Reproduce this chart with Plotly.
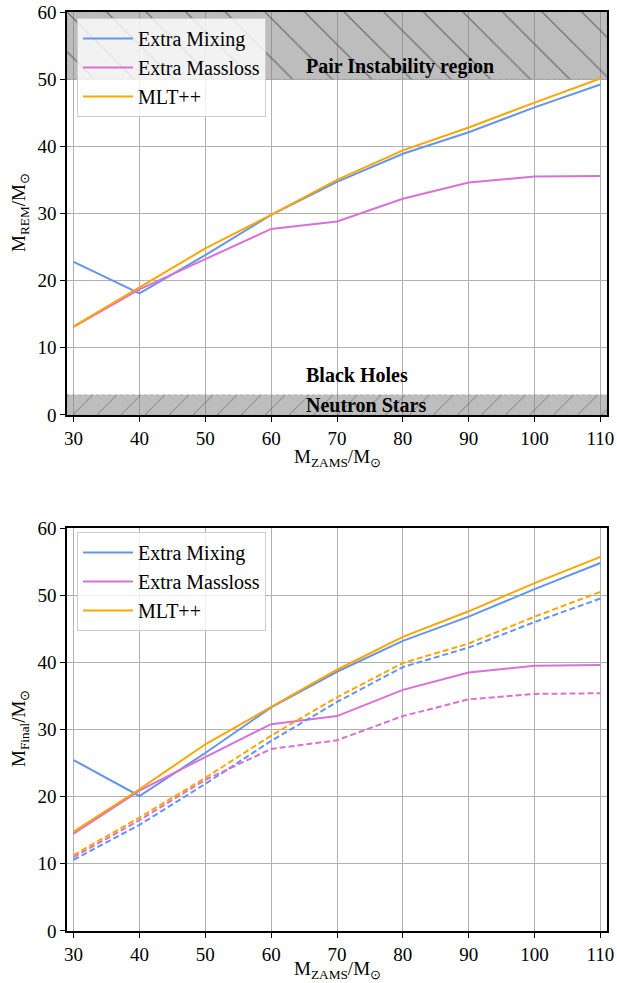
import plotly.graph_objects as go

# ---------------- data ----------------
M_ZAMS = [30, 40, 50, 60, 70, 80, 90, 100, 110]

rem_extra_mixing = [22.8, 18.1, 23.8, 29.8, 34.7, 38.9, 42.1, 45.8, 49.2]
rem_extra_massloss = [13.1, 18.7, 23.2, 27.7, 28.8, 32.2, 34.6, 35.5, 35.6]
rem_mltpp = [13.2, 19.0, 24.8, 29.8, 35.0, 39.4, 42.8, 46.5, 50.1]

final_extra_mixing = [25.45, 20.1, 26.5, 33.3, 38.6, 43.2, 46.8, 50.9, 54.8]
final_extra_massloss = [14.5, 20.9, 25.9, 30.8, 32.0, 35.9, 38.5, 39.5, 39.6]
final_mltpp = [14.8, 21.1, 27.8, 33.4, 38.9, 43.8, 47.6, 51.8, 55.7]

dash_extra_mixing = [10.6, 15.8, 21.9, 28.3, 34.1, 39.3, 42.2, 46.0, 49.5]
dash_extra_massloss = [11.0, 16.5, 22.5, 27.1, 28.4, 32.0, 34.5, 35.3, 35.4]
dash_mltpp = [11.3, 16.9, 22.8, 29.1, 34.8, 39.9, 42.8, 46.8, 50.5]

SERIES_NAMES = ["Extra Mixing", "Extra Massloss", "MLT++"]
X_TICKS = [30, 40, 50, 60, 70, 80, 90, 100, 110]
Y_TICKS = [0, 10, 20, 30, 40, 50, 60]
X_LIM = [29, 111]
Y_LIM = [0, 60]
PAIR_INSTABILITY = [50, 60]
NEUTRON_STARS = [0, 3]

# ---------------- style ----------------
COLORS = ["#6495ED", "#DA70D6", "#FFA500"]
FONT = "Liberation Serif"
FS = 19

fig = go.Figure()


def band(lo_hi, shape, size, xaxis, yaxis):
    lo, hi = lo_hi
    fig.add_trace(go.Scatter(
        x=[X_LIM[0], X_LIM[1], X_LIM[1], X_LIM[0], X_LIM[0]],
        y=[lo, lo, hi, hi, lo],
        mode="lines", fill="toself",
        line=dict(width=0.8, color="rgba(150,150,150,0.6)", dash="dot"),
        fillcolor="rgba(128,128,128,0.52)",
        fillpattern=dict(shape=shape, size=size, solidity=0.04,
                         fgcolor="#3a3a3a", fgopacity=0.7,
                         bgcolor="rgba(128,128,128,0.52)"),
        showlegend=False, hoverinfo="skip", xaxis=xaxis, yaxis=yaxis,
    ))


band(PAIR_INSTABILITY, "\\", 28, "x", "y")
band(NEUTRON_STARS, "/", 17, "x", "y")

for name, vals, col in zip(SERIES_NAMES, [rem_extra_mixing, rem_extra_massloss, rem_mltpp], COLORS):
    fig.add_trace(go.Scatter(x=M_ZAMS, y=vals, mode="lines", name=name,
                             line=dict(color=col, width=2), xaxis="x", yaxis="y",
                             legend="legend"))

for name, vals, col in zip(SERIES_NAMES, [final_extra_mixing, final_extra_massloss, final_mltpp], COLORS):
    fig.add_trace(go.Scatter(x=M_ZAMS, y=vals, mode="lines", name=name,
                             line=dict(color=col, width=2), xaxis="x2", yaxis="y2",
                             legend="legend2"))

for name, vals, col in zip(SERIES_NAMES, [dash_extra_mixing, dash_extra_massloss, dash_mltpp], COLORS):
    fig.add_trace(go.Scatter(x=M_ZAMS, y=vals, mode="lines", name=name,
                             line=dict(color=col, width=2, dash="6px,3px"),
                             xaxis="x2", yaxis="y2", showlegend=False))

axis_common = dict(
    showline=True, mirror=True, linecolor="black", linewidth=1.6,
    ticks="outside", ticklen=5, tickwidth=1.2, tickcolor="black",
    showgrid=True, gridcolor="#b0b0b0", gridwidth=1,
    zeroline=False, automargin=False,
    tickfont=dict(family=FONT, size=FS, color="black"),
)

legend_common = dict(
    xanchor="left", yanchor="top",
    bgcolor="rgba(255,255,255,0.8)", bordercolor="#cccccc", borderwidth=1,
    font=dict(family=FONT, size=20, color="black"), tracegroupgap=0,
    itemwidth=50,
)

plot_w, plot_h = 617 - 67 - 10, 983 - 12 - 52


def py(pix):
    return (983 - 52 - pix) / plot_h


fig.update_layout(
    template="none",
    width=617, height=983,
    margin=dict(l=67, r=10, t=12, b=52, autoexpand=False),
    paper_bgcolor="white", plot_bgcolor="white",
    font=dict(family=FONT, size=FS, color="black"),
    xaxis=dict(axis_common, domain=[0, 1], range=X_LIM, tickvals=X_TICKS, anchor="y"),
    yaxis=dict(axis_common, domain=[0.5615, 1], range=Y_LIM, tickvals=Y_TICKS, anchor="x"),
    xaxis2=dict(axis_common, domain=[0, 1], range=X_LIM, tickvals=X_TICKS, anchor="y2"),
    yaxis2=dict(axis_common, domain=[0, 0.4385], range=Y_LIM, tickvals=Y_TICKS, anchor="x2"),
    legend=dict(legend_common, x=0.0185, y=py(18)),
    legend2=dict(legend_common, x=0.0185, y=py(532)),
    showlegend=True,
)

region_font = dict(family=FONT, size=20, color="black", weight="bold")
annotations = [
    dict(text="Pair Instability region", x=65, y=51.9, xref="x", yref="y",
         xanchor="left", yanchor="middle", showarrow=False, font=region_font),
    dict(text="Black Holes", x=65, y=5.95, xref="x", yref="y",
         xanchor="left", yanchor="middle", showarrow=False, font=region_font),
    dict(text="Neutron Stars", x=65, y=1.5, xref="x", yref="y",
         xanchor="left", yanchor="middle", showarrow=False, font=region_font),
    # axis titles (positions given in pixels, converted below)
    dict(text="M<sub>REM</sub>/M<sub>⊙</sub>", x=20, y=213, xref="paper", yref="paper",
         xanchor="center", yanchor="middle", textangle=-90, showarrow=False,
         font=dict(family=FONT, size=FS, color="black")),
    dict(text="M<sub>Final</sub>/M<sub>⊙</sub>", x=20, y=729, xref="paper", yref="paper",
         xanchor="center", yanchor="middle", textangle=-90, showarrow=False,
         font=dict(family=FONT, size=FS, color="black")),
    dict(text="M<sub>ZAMS</sub>/M<sub>⊙</sub>", x=337, y=458, xref="paper", yref="paper",
         xanchor="center", yanchor="middle", showarrow=False,
         font=dict(family=FONT, size=FS, color="black")),
    dict(text="M<sub>ZAMS</sub>/M<sub>⊙</sub>", x=337, y=970, xref="paper", yref="paper",
         xanchor="center", yanchor="middle", showarrow=False,
         font=dict(family=FONT, size=FS, color="black")),
]
for a in annotations:
    if a["xref"] == "paper":
        a["x"] = (a["x"] - 67) / plot_w
        a["y"] = py(a["y"])
fig.update_layout(annotations=annotations)

fig.write_html("out.html", config={"displayModeBar": False},
               post_script="document.body.style.margin='0';document.body.style.overflow='hidden';")
